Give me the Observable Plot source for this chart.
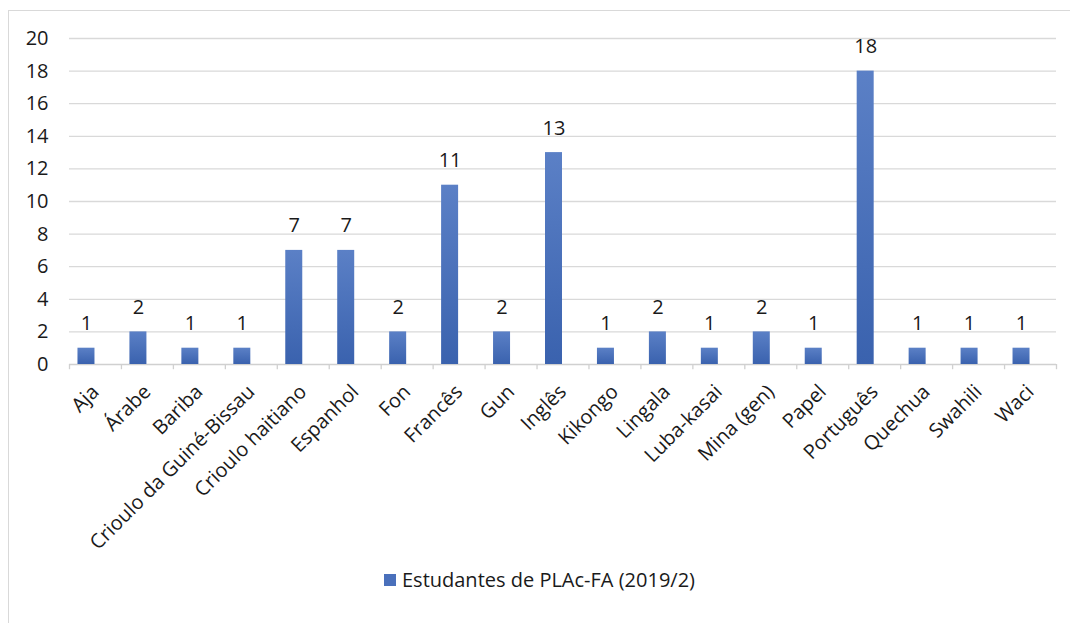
<!DOCTYPE html>
<html>
<head>
<meta charset="utf-8">
<script src="https://cdn.jsdelivr.net/npm/d3@7"></script>
<script src="https://cdn.jsdelivr.net/npm/@observablehq/plot@0.6"></script>
<style>
  html, body { margin: 0; padding: 0; background: #fff; }
  body { width: 1070px; height: 623px; position: relative; overflow: hidden; font-family: "Open Sans", sans-serif; }
  #frame {
    position: absolute; left: 8px; top: 10px; width: 1062px; height: 613px;
    border-top: 1.5px solid #d9d9d9; border-left: 1.5px solid #d9d9d9; box-sizing: border-box;
  }
  #chart { position: absolute; left: 0; top: 0; }
  #chart svg { overflow: visible; }
  #legend {
    position: absolute; left: 0; right: 0; top: 555px; text-align: center;
    font-size: 20px; color: #1a1a1a; white-space: nowrap;
  }
  #legend .sw { display: inline-block; width: 12px; height: 12px; background: #4a70bb; margin-right: 6px; vertical-align: 1px; }
</style>
</head>
<body>
<div id="frame">
  <div id="chart"></div>
  <div id="legend"><span class="sw"></span><span id="legend-label"></span></div>
</div>
<script>
// Languages spoken by PLAc-FA students, semester 2019/2
const languages = ["Aja", "Árabe", "Bariba", "Crioulo da Guiné-Bissau", "Crioulo haitiano", "Espanhol", "Fon", "Francês", "Gun", "Inglês", "Kikongo", "Lingala", "Luba-kasai", "Mina (gen)", "Papel", "Português", "Quechua", "Swahili", "Waci"];
const students = [1, 2, 1, 1, 7, 7, 2, 11, 2, 13, 1, 2, 1, 2, 1, 18, 1, 1, 1];
const seriesName = "Estudantes de PLAc-FA (2019/2)";
const yTicks = [0, 2, 4, 6, 8, 10, 12, 14, 16, 18, 20];

const data = languages.map((lang, i) => ({lang, n: students[i]}));

const W = 1061, H = 552;
const mL = 60, mR = 14, mT = 27, mB = 199;
const bw = (W - mL - mR) / languages.length;
const shift = -9; // bars and their labels sit slightly left of the category centre
const fs = 20;

const chart = Plot.plot({
  width: W,
  height: H,
  marginLeft: mL,
  marginRight: mR,
  marginTop: mT,
  marginBottom: mB,
  style: {fontFamily: "Open Sans, sans-serif", fontSize: fs + "px", color: "#1a1a1a", background: "transparent"},
  x: {domain: languages, padding: 0, round: false, label: null},
  y: {domain: [0, 20], label: null},
  marks: [
    Plot.ruleY(yTicks.filter(d => d > 0), {stroke: "#d9d9d9", strokeWidth: 1.3}),
    Plot.ruleY([0], {stroke: "#d0d0d0", strokeWidth: 1.3}),
    // category boundary ticks below the baseline
    Plot.ruleX(languages, {x: d => d, dx: -bw / 2, y1: 0, y2: -0.32, stroke: "#d0d0d0", strokeWidth: 1.3}),
    Plot.ruleX(languages.slice(-1), {x: d => d, dx: bw / 2, y1: 0, y2: -0.32, stroke: "#d0d0d0", strokeWidth: 1.3}),
    Plot.barY(data, {x: "lang", y: "n", insetLeft: (bw - 17) / 2 + shift, insetRight: (bw - 17) / 2 - shift,
      fill: "url(#barGrad)", style: "filter: drop-shadow(1.5px 1px 1.5px rgba(0,0,0,0.25))"}),
    Plot.text(data, {x: "lang", y: "n", text: d => String(d.n), dx: shift, dy: -18, lineAnchor: "bottom",
      fill: "#1a1a1a", fontSize: fs}),
    Plot.axisY({ticks: yTicks, tickSize: 0, tickPadding: 21, fontSize: fs, fill: "#1a1a1a"}),
    Plot.axisX({tickRotate: -45, tickSize: 0, tickPadding: 24, fontSize: fs, fill: "#1a1a1a", label: null})
  ]
});

// vertical gradient for the bars
const svgNS = "http://www.w3.org/2000/svg";
const defs = document.createElementNS(svgNS, "defs");
const grad = document.createElementNS(svgNS, "linearGradient");
grad.setAttribute("id", "barGrad");
grad.setAttribute("x1", "0"); grad.setAttribute("y1", "0");
grad.setAttribute("x2", "0"); grad.setAttribute("y2", "1");
[["0%", "#5b80c6"], ["100%", "#3a62ae"]].forEach(([o, c]) => {
  const s = document.createElementNS(svgNS, "stop");
  s.setAttribute("offset", o); s.setAttribute("stop-color", c);
  grad.appendChild(s);
});
defs.appendChild(grad);
chart.insertBefore(defs, chart.firstChild);

document.getElementById("chart").appendChild(chart);
document.getElementById("legend-label").textContent = seriesName;
</script>
</body>
</html>
